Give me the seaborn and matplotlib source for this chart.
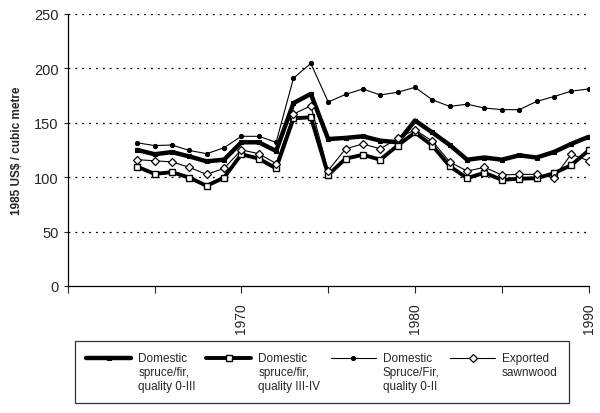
import matplotlib
matplotlib.use("Agg")
import matplotlib.pyplot as plt
import seaborn as sns
from matplotlib.legend_handler import HandlerLine2D

years = list(range(1964, 1991))

quality_0_iii = [125, 121, 123, 119, 114.5, 116, 132, 132, 124, 168, 176.5, 135, 136, 137.5,
                 133.5, 132, 152, 141, 129.5, 116, 118, 116, 120, 118, 123, 130.5, 137]
quality_iii_iv = [109.5, 103, 104.5, 99.5, 92, 99.5, 121, 117, 108, 154, 155, 102, 117, 120.5,
                  116, 129, 141, 129, 110, 99, 104, 97.5, 98.5, 99, 103.5, 111, 124.5]
quality_0_ii = [131.5, 129, 129.5, 124.5, 121.5, 127, 137.5, 137.5, 132, 191, 204.5, 169, 176, 181,
                175.5, 178, 182.5, 171, 165, 167, 163.5, 162, 162, 169.5, 174, 179, 181]
exported = [116, 115, 114, 109, 102.5, 108, 125, 121.5, 112.5, 158, 165.5, 106, 126, 130.5,
            126, 135.5, 143.5, 133, 114, 105.5, 109, 102, 102.5, 102.5, 99.5, 121, 115]

labels = [
    "Domestic\nspruce/fir,\nquality 0-III",
    "Domestic\nspruce/fir,\nquality III-IV",
    "Domestic\nSpruce/Fir,\nquality 0-II",
    "Exported\nsawnwood\n ",
]


class TopLineHandler(HandlerLine2D):
    # legend line sits level with the first text line, not the middle one
    def create_artists(self, legend, orig_handle, xdescent, ydescent, width, height, fontsize, trans):
        arts = super().create_artists(legend, orig_handle, xdescent, ydescent, width, height,
                                      fontsize, trans)
        for a in arts:
            a.set_ydata([y + fontsize * 1.2 for y in a.get_ydata()])
        return arts


sns.set_style("white")
plt.rcParams["font.family"] = ["Liberation Sans", "DejaVu Sans"]

fig = plt.figure(figsize=(6, 4.14), dpi=100)
ax = fig.add_axes([0.113, 0.307, 0.868, 0.657])

styles = [
    dict(linewidth=3.2, marker="s", markersize=3.5, markerfacecolor="black", markeredgecolor="black"),
    dict(linewidth=2.8, marker="s", markersize=5, markerfacecolor="white", markeredgecolor="black",
         markeredgewidth=1),
    dict(linewidth=0.8, marker="o", markersize=3, markerfacecolor="black", markeredgecolor="black"),
    dict(linewidth=0.8, marker="D", markersize=4.5, markerfacecolor="white", markeredgecolor="black",
         markeredgewidth=0.9),
]
for vals, lab, st in zip([quality_0_iii, quality_iii_iv, quality_0_ii, exported], labels, styles):
    sns.lineplot(x=years, y=vals, ax=ax, color="black", label=lab, **st)

ax.set_xlim(1960, 1990)
ax.set_ylim(0, 250)
ax.set_yticks(range(0, 251, 50))
ax.set_xticks(range(1960, 1991, 5))
ax.set_xticklabels(["" if y % 10 or y == 1960 else str(y) for y in range(1960, 1991, 5)],
                   rotation=90, fontsize=10)
ax.tick_params(axis="y", labelsize=10.5, length=3, direction="out", left=True, width=0.8)
ax.tick_params(axis="x", length=5, direction="out", bottom=True, width=0.8, pad=7)
for y in range(50, 251, 50):
    ax.axhline(y, color="black", linestyle=(0, (1.5, 4)), linewidth=0.9, zorder=0)
for s in ["top", "right"]:
    ax.spines[s].set_visible(False)
for s in ["left", "bottom"]:
    ax.spines[s].set_color("black")
    ax.spines[s].set_linewidth(0.9)
ax.set_xlabel("")
ax.set_ylabel("1985 US$ / cubic metre", fontsize=8.5, fontweight="bold", labelpad=8)

handles, labs = ax.get_legend_handles_labels()
ax.get_legend().remove()
leg = fig.legend(handles, labs, loc="upper left", bbox_to_anchor=(0.125, 0.174), ncol=4,
                 fontsize=8.5, frameon=True, fancybox=False, handlelength=3.8,
                 columnspacing=0.9, handletextpad=0.6, borderpad=0.95, borderaxespad=0,
                 handler_map={h: TopLineHandler() for h in handles})
leg.get_frame().set_edgecolor("black")
leg.get_frame().set_linewidth(0.9)

fig.savefig("out.png", dpi=100)
